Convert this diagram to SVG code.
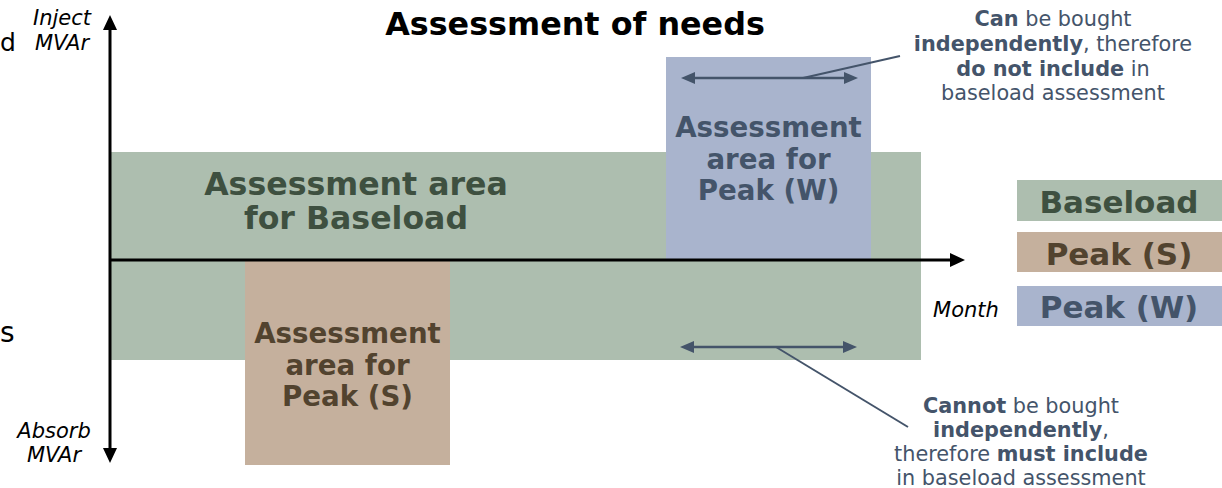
<svg xmlns="http://www.w3.org/2000/svg" width="1222" height="488" viewBox="0 0 1222 488">
<style>
text{font-family:"DejaVu Sans","Verdana",sans-serif;text-anchor:middle}
.b{font-weight:bold}
.lbl{font-size:27.7px;font-weight:bold}
.leg{font-size:31px;font-weight:bold}
.ax{font-size:21px;font-style:italic;fill:#000}
.note{font-size:20.8px;fill:#44546a}
.green{fill:#adbeaf}
.blue{fill:#a9b4cd}
.tan{fill:#c5b09d}
.tg{fill:#3e5040}
.tb{fill:#44546a}
.tt{fill:#52432f}
.axis{stroke:#000;stroke-width:3;fill:none}
.dbl{stroke:#44546a;stroke-width:2.5;fill:none}
.call{stroke:#44546a;stroke-width:2;fill:none}
</style>
<defs>
<marker id="axh" viewBox="0 0 15 14" refX="0" refY="7" markerWidth="15" markerHeight="14" markerUnits="userSpaceOnUse" orient="auto-start-reverse">
<path d="M0,0 L15,7 L0,14 z" fill="#000"/>
</marker>
<marker id="bhb" viewBox="0 0 14 12" refX="0" refY="6" markerWidth="14" markerHeight="12" markerUnits="userSpaceOnUse" orient="auto-start-reverse">
<path d="M0,0 L14,6 L0,12 z" fill="#44546a"/>
</marker>
</defs>

<text x="0" y="51" style="font-size:25px;text-anchor:start" fill="#000">d</text>
<text x="0" y="342" style="font-size:28px;text-anchor:start" fill="#000">s</text>

<text x="575" y="35" class="b" style="font-size:31.8px" fill="#000">Assessment of needs</text>

<g id="baseload">
<rect x="110" y="152" width="811" height="208" class="green"/>
<text x="356" y="195" class="lbl tg" style="font-size:31.6px">Assessment area</text>
<text x="356" y="229" class="lbl tg" style="font-size:31.6px">for Baseload</text>
</g>

<g id="peakW">
<rect x="666" y="57" width="205" height="203" class="blue"/>
<text x="768.5" y="137" class="lbl tb">Assessment</text>
<text x="768.5" y="169" class="lbl tb">area for</text>
<text x="768.5" y="200" class="lbl tb">Peak (W)</text>
</g>

<g id="peakS">
<rect x="245" y="261" width="205" height="204" class="tan"/>
<text x="347.5" y="343" class="lbl tt">Assessment</text>
<text x="347.5" y="375" class="lbl tt">area for</text>
<text x="347.5" y="406" class="lbl tt">Peak (S)</text>
</g>

<g id="legend">
<g id="leg-baseload">
<rect x="1017" y="180" width="205" height="41" class="green"/>
<text x="1119" y="213" class="leg tg">Baseload</text>
</g>
<g id="leg-peakS">
<rect x="1017" y="232" width="205" height="40" class="tan"/>
<text x="1119" y="265" class="leg tt">Peak (S)</text>
</g>
<g id="leg-peakW">
<rect x="1017" y="286" width="205" height="40" class="blue"/>
<text x="1119" y="318" class="leg tb">Peak (W)</text>
</g>
</g>

<g id="axis-labels">
<text x="62" y="25" class="ax">Inject</text>
<text x="62" y="50" class="ax">MVAr</text>
<text x="54" y="438" class="ax">Absorb</text>
<text x="54" y="462" class="ax">MVAr</text>
<text x="966" y="317" class="ax">Month</text>
</g>

<g id="note-top">
<text x="1053" y="26" class="note"><tspan class="b">Can</tspan> be bought</text>
<text x="1053" y="51" class="note"><tspan class="b">independently</tspan>, therefore</text>
<text x="1053" y="76" class="note"><tspan class="b">do not include</tspan> in</text>
<text x="1053" y="100" class="note">baseload assessment</text>
</g>

<g id="note-bottom">
<text x="1021" y="413" class="note"><tspan class="b">Cannot</tspan> be bought</text>
<text x="1021" y="437" class="note"><tspan class="b">independently</tspan>,</text>
<text x="1021" y="461" class="note">therefore <tspan class="b">must include</tspan></text>
<text x="1021" y="485" class="note">in baseload assessment</text>
</g>

<g id="connectors">
<line x1="110" y1="30" x2="110" y2="448" class="axis" marker-start="url(#axh)" marker-end="url(#axh)"/>
<line x1="110" y1="260" x2="950" y2="260" class="axis" marker-end="url(#axh)"/>
<line x1="695" y1="78" x2="844" y2="78" class="dbl" marker-start="url(#bhb)" marker-end="url(#bhb)"/>
<line x1="694" y1="347" x2="843" y2="347" class="dbl" marker-start="url(#bhb)" marker-end="url(#bhb)"/>
<line x1="803" y1="78" x2="900" y2="56" class="call"/>
<line x1="776" y1="347" x2="908" y2="427" class="call"/>
</g>
</svg>
